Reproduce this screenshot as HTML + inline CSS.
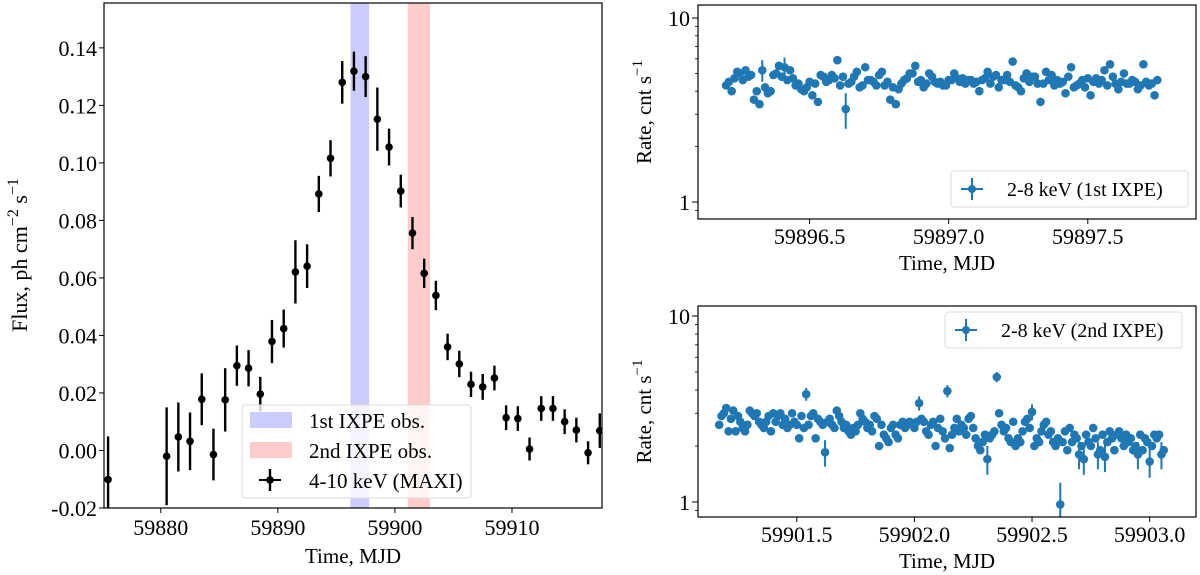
<!DOCTYPE html>
<html><head><meta charset="utf-8"><style>
html,body{margin:0;padding:0;background:#fff;width:1200px;height:575px;overflow:hidden}
svg text{font-family:"Liberation Serif",serif;fill:#000}
</style></head><body>
<svg id="fig" width="1200" height="575" xmlns="http://www.w3.org/2000/svg"></svg>
<script>
// ---- Left panel data (MAXI 4-10 keV) ----
const maxiTime=[59875.5,59880.5,59881.5,59882.5,59883.5,59884.5,59885.5,59886.5,59887.5,59888.5,59889.5,59890.5,59891.5,59892.5,59893.5,59894.5,59895.5,59896.5,59897.5,59898.5,59899.5,59900.5,59901.5,59902.5,59903.5,59904.5,59905.5,59906.5,59907.5,59908.5,59909.5,59910.5,59911.5,59912.5,59913.5,59914.5,59915.5,59916.5,59917.5];
const maxiFlux=[-0.0101,-0.002,0.0047,0.0032,0.0178,-0.0014,0.0176,0.0295,0.0286,0.0196,0.0379,0.0424,0.0621,0.0641,0.0892,0.1016,0.128,0.1319,0.130,0.1152,0.1055,0.0902,0.0756,0.0616,0.0539,0.036,0.0301,0.023,0.0221,0.0252,0.0114,0.0111,0.0005,0.0146,0.0146,0.010,0.0071,-0.0008,0.0069];
const maxiErr=[0.015,0.017,0.012,0.010,0.009,0.009,0.011,0.007,0.0063,0.006,0.0075,0.0066,0.011,0.0076,0.0063,0.0063,0.0074,0.0068,0.0071,0.011,0.0064,0.0057,0.0056,0.0051,0.0051,0.0046,0.0046,0.0044,0.0045,0.0043,0.0043,0.0043,0.004,0.0043,0.0043,0.0043,0.0043,0.004,0.006];
const leftYTicks=[-0.02,0.00,0.02,0.04,0.06,0.08,0.10,0.12,0.14];
const leftXTicks=[59880,59890,59900,59910];
const bands=[[59896.2,59897.8],[59901.1,59903.0]];
// ---- Top-right (1st IXPE) ----
const ixpe1Base=59896;
const ixpe1Time=[0.20,0.22,0.23,0.25,0.27,0.29,0.30,0.32,0.33,0.34,0.35,0.37,0.39,0.41,0.43,0.44,0.46,0.48,0.49,0.51,0.53,0.55,0.56,0.58,0.60,0.62,0.63,0.65,0.67,0.69,0.70,0.72,0.74,0.76,0.77,0.79,0.81,0.82,0.84,0.86,0.88,0.89,0.91,0.93,0.95,0.96,0.98,1.00,1.02,1.04,1.05,1.07,1.09,1.11,1.12,1.14,1.16,1.18,1.19,1.21,1.23,1.25,1.26,1.28,1.30,1.32,1.33,1.35,1.37,1.39,1.40,1.42,1.44,1.46,1.47,1.49,1.51,1.53,1.54,1.56,1.58,1.60,1.61,1.63,1.65,1.67,1.68,1.70,1.72,1.74,1.75,
 0.21,0.24,0.26,0.28,0.31,0.36,0.38,0.40,0.42,0.45,0.47,0.50,0.52,0.54,0.57,0.59,0.61,0.64,0.66,0.68,0.71,0.73,0.75,0.78,0.80,0.83,0.85,0.87,0.90,0.92,0.94,0.97,0.99,1.01,1.03,1.06,1.08,1.10,1.13,1.15,1.17,1.20,1.22,1.24,1.27,1.29,1.31,1.34,1.36,1.38,1.41,1.43,1.45,1.48,1.50,1.52,1.55,1.57,1.59,1.62,1.64,1.66,1.69,1.71,1.73];
const ixpe1Rate=[4.3,4.0,4.7,5.0,5.2,4.9,3.6,3.4,5.2,4.2,3.9,4.9,5.5,5.4,5.2,4.7,4.4,4.0,4.2,3.8,3.5,4.8,4.5,4.9,5.9,4.8,3.2,4.5,5.1,4.3,5.4,4.6,4.3,5.1,4.3,3.6,3.4,4.1,4.6,5.0,5.5,4.5,4.2,5.0,4.5,4.4,4.3,4.6,5.0,4.5,4.7,4.6,4.4,4.0,4.6,5.1,4.8,4.2,4.6,4.9,5.8,4.2,4.0,5.0,4.8,4.4,3.5,5.1,4.9,4.6,4.4,3.9,5.4,4.3,4.4,4.2,3.8,4.7,4.4,5.2,5.6,4.4,4.1,5.0,4.4,4.5,4.1,5.6,4.3,3.8,4.6,
 4.5,5.1,4.6,4.8,4.0,4.0,5.0,4.8,4.6,4.3,4.1,4.5,4.4,4.9,4.6,4.7,4.3,4.4,4.8,4.2,4.6,4.5,4.9,4.5,4.2,4.4,4.7,5.0,4.6,4.4,4.8,4.5,4.3,4.6,4.7,4.4,4.6,4.5,4.7,4.4,4.9,4.6,4.5,4.3,4.7,4.5,4.8,4.4,4.6,4.3,4.5,4.8,4.2,4.6,4.7,4.5,4.6,4.3,4.8,4.5,4.4,4.6,4.3,4.5,4.4];
const ixpe1Err=ixpe1Time.map((t,i)=>[8,13,26].includes(i)?0.7:0.15);
const topXTicks=[59896.5,59897.0,59897.5];
// ---- Bottom-right (2nd IXPE) ----
const ixpe2Base=59901;
const ixpe2Time=[0.17,0.18,0.19,0.20,0.21,0.22,0.23,0.24,0.25,0.26,
0.27,0.28,0.29,0.30,0.31,0.32,0.33,0.34,0.35,0.36,
0.37,0.38,0.39,0.40,0.41,0.42,0.43,0.44,0.45,0.46,
0.47,0.48,0.49,0.50,0.51,0.52,0.53,0.54,0.55,0.56,
0.57,0.58,0.59,0.60,0.61,0.62,0.63,0.64,0.65,0.66,
0.67,0.68,0.69,0.70,0.71,0.72,0.73,0.74,0.75,0.76,
0.77,0.78,0.79,0.80,0.81,0.82,0.83,0.84,0.85,0.86,
0.87,0.88,0.89,0.90,0.91,0.92,0.93,0.94,0.95,0.96,
0.97,0.98,0.99,1.00,1.01,1.02,1.03,1.04,1.05,1.06,
1.07,1.08,1.09,1.10,1.11,1.12,1.13,1.14,1.15,1.16,
1.17,1.18,1.19,1.20,1.21,1.22,1.23,1.24,1.25,1.26,
1.27,1.28,1.29,1.30,1.31,1.32,1.33,1.34,1.35,1.36,
1.37,1.38,1.39,1.40,1.41,1.42,1.43,1.44,1.45,1.46,
1.47,1.48,1.49,1.50,1.51,1.52,1.53,1.54,1.55,1.56,
1.57,1.58,1.59,1.60,1.61,1.62,1.63,1.64,1.65,1.66,
1.67,1.68,1.69,1.70,1.71,1.72,1.73,1.74,1.75,1.76,
1.77,1.78,1.79,1.80,1.81,1.82,1.83,1.84,1.85,1.86,
1.87,1.88,1.89,1.90,1.91,1.92,1.93,1.94,1.95,1.96,
1.97,1.98,1.99,2.00,2.01,2.02,2.03,2.04,2.05,2.06];
const ixpe2Rate=[2.6,2.9,3.0,3.2,2.4,2.8,3.1,2.4,2.9,2.7,
2.5,2.4,2.6,3.1,3.0,2.9,3.0,2.7,2.6,2.5,
2.7,2.9,2.4,3.0,2.7,2.9,3.0,2.6,2.8,2.5,
2.6,3.0,2.7,2.6,2.2,2.9,2.5,3.8,2.6,2.9,
3.0,2.2,2.8,2.7,2.6,1.85,2.7,2.8,2.6,2.5,
3.1,2.9,2.7,2.5,2.6,2.4,2.3,2.5,2.4,2.6,
3.0,2.8,2.7,2.5,2.6,2.4,2.9,2.8,2.0,2.6,
2.3,2.2,2.1,2.5,2.6,2.3,2.2,2.6,2.7,2.5,
2.6,2.7,2.6,2.5,2.7,3.4,2.8,2.7,2.4,2.3,
2.6,2.7,2.0,2.5,2.8,2.4,2.2,3.95,1.95,2.3,
2.5,2.8,2.4,2.6,2.5,2.3,2.8,2.9,2.5,2.2,
2.0,1.9,2.1,2.3,1.7,2.2,2.3,2.4,4.7,3.0,
2.6,2.4,2.5,2.2,2.1,2.7,2.0,2.2,2.1,2.4,
2.7,2.8,2.5,3.05,2.0,2.2,2.1,2.4,2.6,2.7,
2.3,2.4,2.1,2.0,2.2,0.97,2.1,2.4,1.9,2.5,
2.1,2.3,2.2,1.8,2.0,1.7,2.3,2.1,2.0,2.5,
2.2,1.8,1.9,2.3,1.75,2.1,2.4,2.2,1.9,2.3,
2.4,2.2,2.0,2.3,2.1,2.2,1.9,2.0,1.8,2.3,
1.9,2.2,2.1,1.65,2.0,2.3,2.2,2.3,1.8,1.9];
const ixpe2Err=ixpe2Rate.map(v=>(v>3.3||v<1.9||v===3.05)?0.3:0.07);
const botXTicks=[59901.5,59902.0,59902.5,59903.0];

const NS='http://www.w3.org/2000/svg';
const svg=document.getElementById('fig');
function mk(tag,attrs,parent){const e=document.createElementNS(NS,tag);for(const k in attrs)e.setAttribute(k,attrs[k]);(parent||svg).appendChild(e);return e;}
const defs=mk('defs',{});
function clip(id,x,y,w,h){const c=mk('clipPath',{id:id},defs);mk('rect',{x:x,y:y,width:w,height:h},c);}

// ===== Left panel =====
const L={x0:104,x1:602,y0:3,y1:508,xmin:59875.15,xmax:59917.69,ymin:-0.02,ymax:0.1556};
const lx=v=>L.x0+(v-L.xmin)/(L.xmax-L.xmin)*(L.x1-L.x0);
const ly=v=>L.y1-(v-L.ymin)/(L.ymax-L.ymin)*(L.y1-L.y0);
clip('cl',L.x0,L.y0,L.x1-L.x0,L.y1-L.y0);
const lg=mk('g',{'clip-path':'url(#cl)'});


const bandCols=['#ccccff','#ffcccc'];
const bandNames=['ixpe-obs1-band','ixpe-obs2-band'];
bands.forEach((b,i)=>{const r=mk('rect',{x:lx(b[0]),y:L.y0,width:lx(b[1])-lx(b[0]),height:L.y1-L.y0,fill:bandCols[i]},lg);

});
maxiTime.forEach((t,i)=>{const g=mk('g',{},lg);


mk('line',{x1:lx(t),x2:lx(t),y1:ly(maxiFlux[i]-maxiErr[i]),y2:ly(maxiFlux[i]+maxiErr[i]),stroke:'#000','stroke-width':2.4},g);
mk('circle',{cx:lx(t),cy:ly(maxiFlux[i]),r:3.8,fill:'#000'},g);});
mk('rect',{x:L.x0,y:L.y0,width:L.x1-L.x0,height:L.y1-L.y0,fill:'none',stroke:'#000','stroke-width':1.2});
leftYTicks.forEach(v=>{const y=ly(v);mk('line',{x1:L.x0-5,x2:L.x0,y1:y,y2:y,stroke:'#000'});
const t=mk('text',{x:L.x0-7,y:y+8,'text-anchor':'end','font-size':22});t.textContent=v.toFixed(2);

});
leftXTicks.forEach(v=>{const x=lx(v);mk('line',{x1:x,x2:x,y1:L.y1,y2:L.y1+5,stroke:'#000'});
const t=mk('text',{x:x,y:535,'text-anchor':'middle','font-size':22});t.textContent=v;

});
const leg=mk('g',{});


mk('rect',{x:242,y:405,width:229,height:93,fill:'#fff','fill-opacity':0.8,stroke:'#ddd',rx:3},leg);
mk('rect',{x:250,y:412,width:42,height:16,fill:'#ccccff'},leg);
mk('rect',{x:250,y:442,width:42,height:16,fill:'#ffcccc'},leg);
mk('line',{x1:259,x2:281,y1:480,y2:480,stroke:'#000','stroke-width':2},leg);
mk('line',{x1:270,x2:270,y1:469,y2:491,stroke:'#000','stroke-width':2.4},leg);
mk('circle',{cx:270,cy:480,r:3.8,fill:'#000'},leg);
[['1st IXPE obs.',428],['2nd IXPE obs.',458],['4-10 keV (MAXI)',488]].forEach(a=>{const t=mk('text',{x:309,y:a[1],'font-size':21},leg);t.textContent=a[0];});
let t=mk('text',{x:353,y:563,'text-anchor':'middle','font-size':21});t.textContent='Time, MJD';


t=mk('text',{transform:'translate(27,255) rotate(-90)','text-anchor':'middle','font-size':22});
t.innerHTML='Flux, ph cm<tspan dy="-9" font-size="16">−2</tspan><tspan dy="9"> s</tspan><tspan dy="-9" font-size="16">−1</tspan>';



// ===== Right panels =====
function rpanel(P,times,base,rates,errs,xticks,id,name,legendText,legY){
 const px=v=>P.x0+(v-P.xmin)/(P.xmax-P.xmin)*(P.x1-P.x0);
 const py=v=>P.y10-(Math.log10(v)-1)*P.dec;
 clip(id,P.x0,P.y0,P.x1-P.x0,P.y1-P.y0);
 const g=mk('g',{'clip-path':'url(#'+id+')'});
 
 
 times.forEach((tt,i)=>{const t=base+tt;const r=rates[i];const e=errs[i];
  const pg=mk('g',{},g);
  
  
  mk('line',{x1:px(t),x2:px(t),y1:py(Math.max(r-e,0.01)),y2:py(r+e),stroke:'#1f77b4','stroke-width':2},pg);
  mk('circle',{cx:px(t),cy:py(r),r:4.3,fill:'#1f77b4'},pg);});
 mk('rect',{x:P.x0,y:P.y0,width:P.x1-P.x0,height:P.y1-P.y0,fill:'none',stroke:'#000','stroke-width':1.2});
 [[10,'10'],[1,'1']].forEach(a=>{const y=py(a[0]);mk('line',{x1:P.x0-6,x2:P.x0,y1:y,y2:y,stroke:'#000'});
  const tx=mk('text',{x:P.x0-8,y:y+8,'text-anchor':'end','font-size':22});tx.textContent=a[1];
  
  });
 for(let m=2;m<=9;m++){[m,m/10].forEach(v=>{const y=py(v);if(y>P.y0&&y<P.y1)mk('line',{x1:P.x0-3,x2:P.x0,y1:y,y2:y,stroke:'#000','stroke-width':0.8});});}
 xticks.forEach(v=>{const x=px(v);mk('line',{x1:x,x2:x,y1:P.y1,y2:P.y1+5,stroke:'#000'});
  const tx=mk('text',{x:x,y:P.y1+25,'text-anchor':'middle','font-size':22});tx.textContent=v.toFixed(1);
  
  });
 const lg2=mk('g',{});
 
 
 mk('rect',{x:P.lx,y:legY,width:237,height:36,fill:'#fff',stroke:'#ddd',rx:3},lg2);
 mk('line',{x1:P.lx+10,x2:P.lx+32,y1:legY+18,y2:legY+18,stroke:'#1f77b4','stroke-width':2},lg2);
 mk('line',{x1:P.lx+21,x2:P.lx+21,y1:legY+7,y2:legY+29,stroke:'#1f77b4','stroke-width':2},lg2);
 mk('circle',{cx:P.lx+21,cy:legY+18,r:4,fill:'#1f77b4'},lg2);
 const lt=mk('text',{x:P.lx+56,y:legY+25,'font-size':20},lg2);lt.textContent=legendText;
 const xt=mk('text',{x:(P.x0+P.x1)/2,y:P.y1+51,'text-anchor':'middle','font-size':21});xt.textContent='Time, MJD';
 
 
 const yt=mk('text',{transform:'translate(651,'+((P.y0+P.y1)/2)+') rotate(-90)','text-anchor':'middle','font-size':21});
 yt.innerHTML='Rate, cnt s<tspan dy="-9" font-size="15">−1</tspan>';
 
 
}
rpanel({x0:698,x1:1196,y0:5,y1:219,xmin:59896.099,xmax:59897.889,y10:18,dec:184,lx:951},ixpe1Time,ixpe1Base,ixpe1Rate,ixpe1Err,topXTicks,'ct','ixpe1-plot-area','2-8 keV (1st IXPE)',171);
rpanel({x0:698,x1:1196,y0:306,y1:517,xmin:59901.08,xmax:59903.197,y10:316,dec:186,lx:945},ixpe2Time,ixpe2Base,ixpe2Rate,ixpe2Err,botXTicks,'cb','ixpe2-plot-area','2-8 keV (2nd IXPE)',312);
</script>
</body></html>
